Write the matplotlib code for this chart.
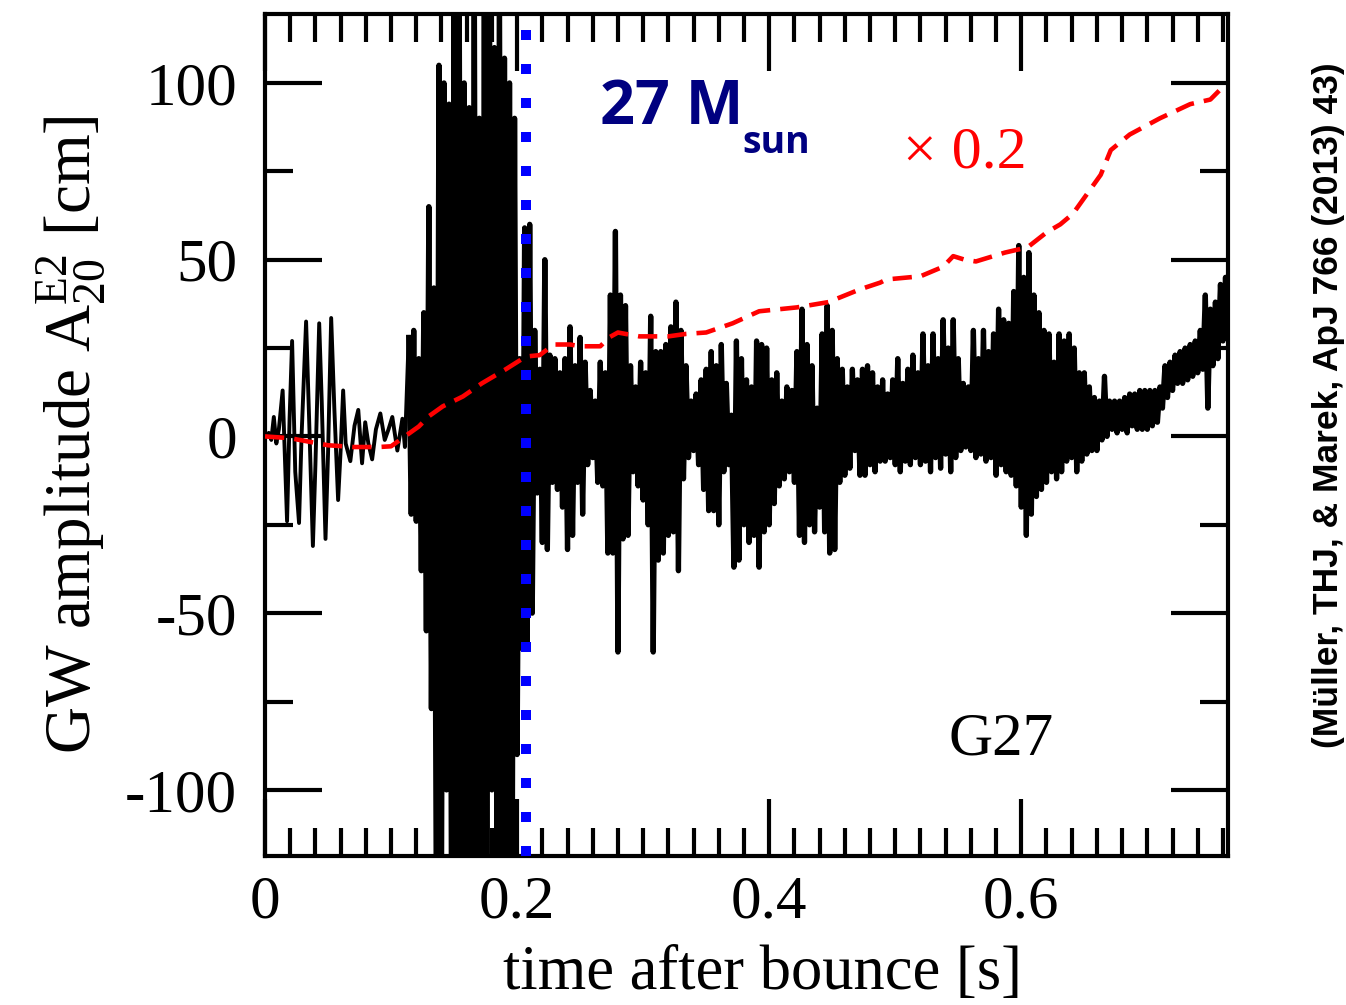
import matplotlib
matplotlib.use("Agg")
import matplotlib.pyplot as plt
import numpy as np

plt.rcParams['font.family'] = 'Liberation Serif'
plt.rcParams['mathtext.fontset'] = 'custom'
plt.rcParams['mathtext.rm'] = 'Liberation Serif'
plt.rcParams['mathtext.it'] = 'Liberation Serif:italic'
plt.rcParams['axes.unicode_minus'] = False

# --- early ringdown part (t < 0.114 s), extrema ---
early_t = [0.000, 0.003, 0.005, 0.007, 0.009, 0.011, 0.014, 0.0175, 0.0195, 0.0215,
           0.024, 0.027, 0.029, 0.0326, 0.035, 0.038, 0.040, 0.043, 0.045, 0.048,
           0.050, 0.0525, 0.055, 0.058, 0.060, 0.062, 0.064, 0.0677, 0.071, 0.074,
           0.077, 0.0795, 0.082, 0.085, 0.088, 0.0915, 0.095, 0.098, 0.101, 0.105,
           0.109, 0.111, 0.114]
early_amp = [0, 1, -1, 5.5, -2, 2, 13, -24, 5, 27,
             -10, -24.5, 0, 32.5, 5, -31, -8, 32, 10, -29,
             -5, 33.5, 8, -18, -4, 13, -2, -7, 3, 7.5,
             -7.6, 4, -2, -6.5, 2, 6.5, -1, 2, 5.5, -4,
             5, -3, 28]

# --- dense part, one value every 2 ms from 0.114 s (alternating upper / lower excursions) ---
dense_start = 0.114
dense_step = 0.002
dense_amp = [
    28, -22, 30, -24, 22, -38, 35, -55, 65, -77,
    42, -140, 105, -130, 100, -100, 94, -140, 130, -140,
    140, -135, 100, -140, 93, -130, 140, -140, 90, -120,
    120, -140, 140, -100, 110, -130, 130, -140, 107, -130,
    100, -140, 90, -90, 22, -60, 59, -58, 60, -50,
    30, -16, 19, -30, 50, -32, 23, -13, 22, -15,
    18, -20, 22, -32, 31, -28, 20, -13, 28, -22,
    21, -8, 13, -6, 10, -13, 21, -14, 18, -33,
    40, -33, 58, -61, 40, -29, 37, -28, 20, -10,
    14, -14, 21, -18, 18, -25, 34, -61, 24, -35,
    24, -33, 26, -28, 31, -27, 38, -38, 30, -12,
    20, -6, 10, -4, 12, -8, 16, -15, 19, -21,
    24, -21, 20, -25, 26, -10, 15, -8, 6, -37,
    27, -35, 22, -25, 16, -30, 14, -28, 27, -37,
    26, -27, 25, -25, 16, -19, 18, -14, 10, -12,
    14, -10, 13, -13, 24, -28, 36, -30, 26, -25,
    20, -27, 8, -20, 29, -27, 37, -33, 30, -32,
    22, -13, 19, -11, 14, -9, 19, -4, 16, -11,
    19, -11, 20, -8, 18, -10, 14, -7, 16, -7,
    12, -6, 16, -8, 22, -10, 15, -7, 19, -8,
    23, -6, 18, -8, 29, -7, 20, -10, 29, -6,
    22, -9, 33, -5, 25, -10, 33, -6, 22, -4,
    15, -3, 14, -4, 30, -6, 22, -5, 30, -7,
    24, -6, 29, -11, 36, -8, 33, -10, 32, -11,
    41, -14, 54, -20, 45, -28, 52, -22, 40, -17,
    35, -15, 30, -13, 29, -10, 21, -12, 29, -10,
    27, -7, 29, -6, 25, -10, 18, -7, 18, -5,
    14, -4, 11, -4, 10, -1, 17, 0, 10, 2,
    10, 1, 10, 2, 11, 1, 12, 3, 12, 2,
    13, 2, 13, 2, 13, 3, 13, 4, 14, 8,
    20, 11, 21, 13, 23, 15, 24, 15, 25, 16,
    26, 17, 27, 18, 30, 19, 40, 8, 36, 20,
    38, 22, 43, 27, 45, 29, 44,
]

# --- red dashed curve (shown x 0.2) ---
scaled_t = [0.0, 0.02, 0.035, 0.05, 0.07, 0.09, 0.1, 0.111, 0.122, 0.130,
            0.141, 0.157, 0.172, 0.191, 0.207, 0.218, 0.229, 0.242, 0.25, 0.266,
            0.273, 0.28, 0.286, 0.297, 0.31, 0.32, 0.334, 0.35, 0.371, 0.392,
            0.422, 0.447, 0.472, 0.488, 0.493, 0.52, 0.538, 0.546, 0.555, 0.564,
            0.587, 0.605, 0.62, 0.631, 0.641, 0.649, 0.663, 0.671, 0.686, 0.71,
            0.734, 0.75, 0.762]
scaled_amp = [0, -0.5, -1.5, -2.5, -3, -3, -2.8, 0, 2.8, 5.7,
              8.5, 11.3, 15, 19, 22.6, 23, 26, 26, 25.5, 25.5,
              28, 29.4, 29, 28.3, 28.3, 28.3, 29, 29.4, 32, 35.4,
              36.5, 38, 41.6, 43.5, 44.4, 45.3, 48, 51, 50, 49.5,
              52, 53.5, 57.7, 60, 63, 67, 74, 81, 85.4, 90,
              94, 95.3, 99.6]

t_marker = 0.207

dense_t = dense_start + dense_step * np.arange(len(dense_amp))

fig = plt.figure(figsize=(13.46, 10.05), dpi=100)
ax = fig.add_axes([265 / 1346, 1 - 856 / 1005, (1228 - 265) / 1346, (856 - 14) / 1005])

ax.plot(early_t, early_amp, color='black', lw=2.8, zorder=2)
ax.plot(dense_t, dense_amp, color='black', lw=3.8, zorder=2)
ax.plot(scaled_t, scaled_amp, color='red', lw=3.3, linestyle=(0, (4.2, 2.2)), zorder=3)
ax.axvline(t_marker, color='#0000ff', lw=7.2, linestyle=(0, (1, 2.4)),
           dash_capstyle='butt', zorder=4)

ax.set_xlim(0, 0.764)
ax.set_ylim(-118.7, 119.5)
ax.set_xticks([0, 0.2, 0.4, 0.6], ['0', '0.2', '0.4', '0.6'])
ax.set_xticks(np.arange(0, 0.77, 0.02), minor=True)
ax.set_yticks([-100, -50, 0, 50, 100])
ax.set_yticks([-75, -25, 25, 75], minor=True)

ax.tick_params(which='both', direction='in', top=True, right=True, width=3,
               labelsize=44)
ax.tick_params(axis='x', pad=14)
ax.tick_params(axis='y', pad=20)
ax.tick_params(which='major', length=41)
ax.tick_params(which='minor', length=20)
for s in ax.spines.values():
    s.set_linewidth(3)

ax.set_xlabel('time after bounce [s]', fontsize=45)
ax.xaxis.set_label_coords(0.517, -0.106)
ax.set_ylabel(r'GW amplitude $\mathregular{A_{20}^{E2}}$ [cm]', fontsize=47, labelpad=12)

ax.text(0.2654, 88.3, '27 M', family='Open Sans', fontweight='bold', fontsize=44,
        color='#000080', zorder=5)
ax.text(0.379, 80.3, 'sun', family='Open Sans', fontweight='bold', fontsize=27,
        color='#000080', zorder=5)
ax.text(0.506, 76.1, '\u00d7 0.2', fontsize=43, color='red', zorder=5)
ax.text(0.542, -90, 'G27', fontsize=44, color='black', zorder=5)

fig.text(0.987, 0.597, '(Müller, THJ, & Marek, ApJ 766 (2013) 43)', rotation=90,
         family='Liberation Sans', fontweight='bold', fontsize=25.5,
         ha='center', va='center')

fig.savefig('out.png', dpi=100)
